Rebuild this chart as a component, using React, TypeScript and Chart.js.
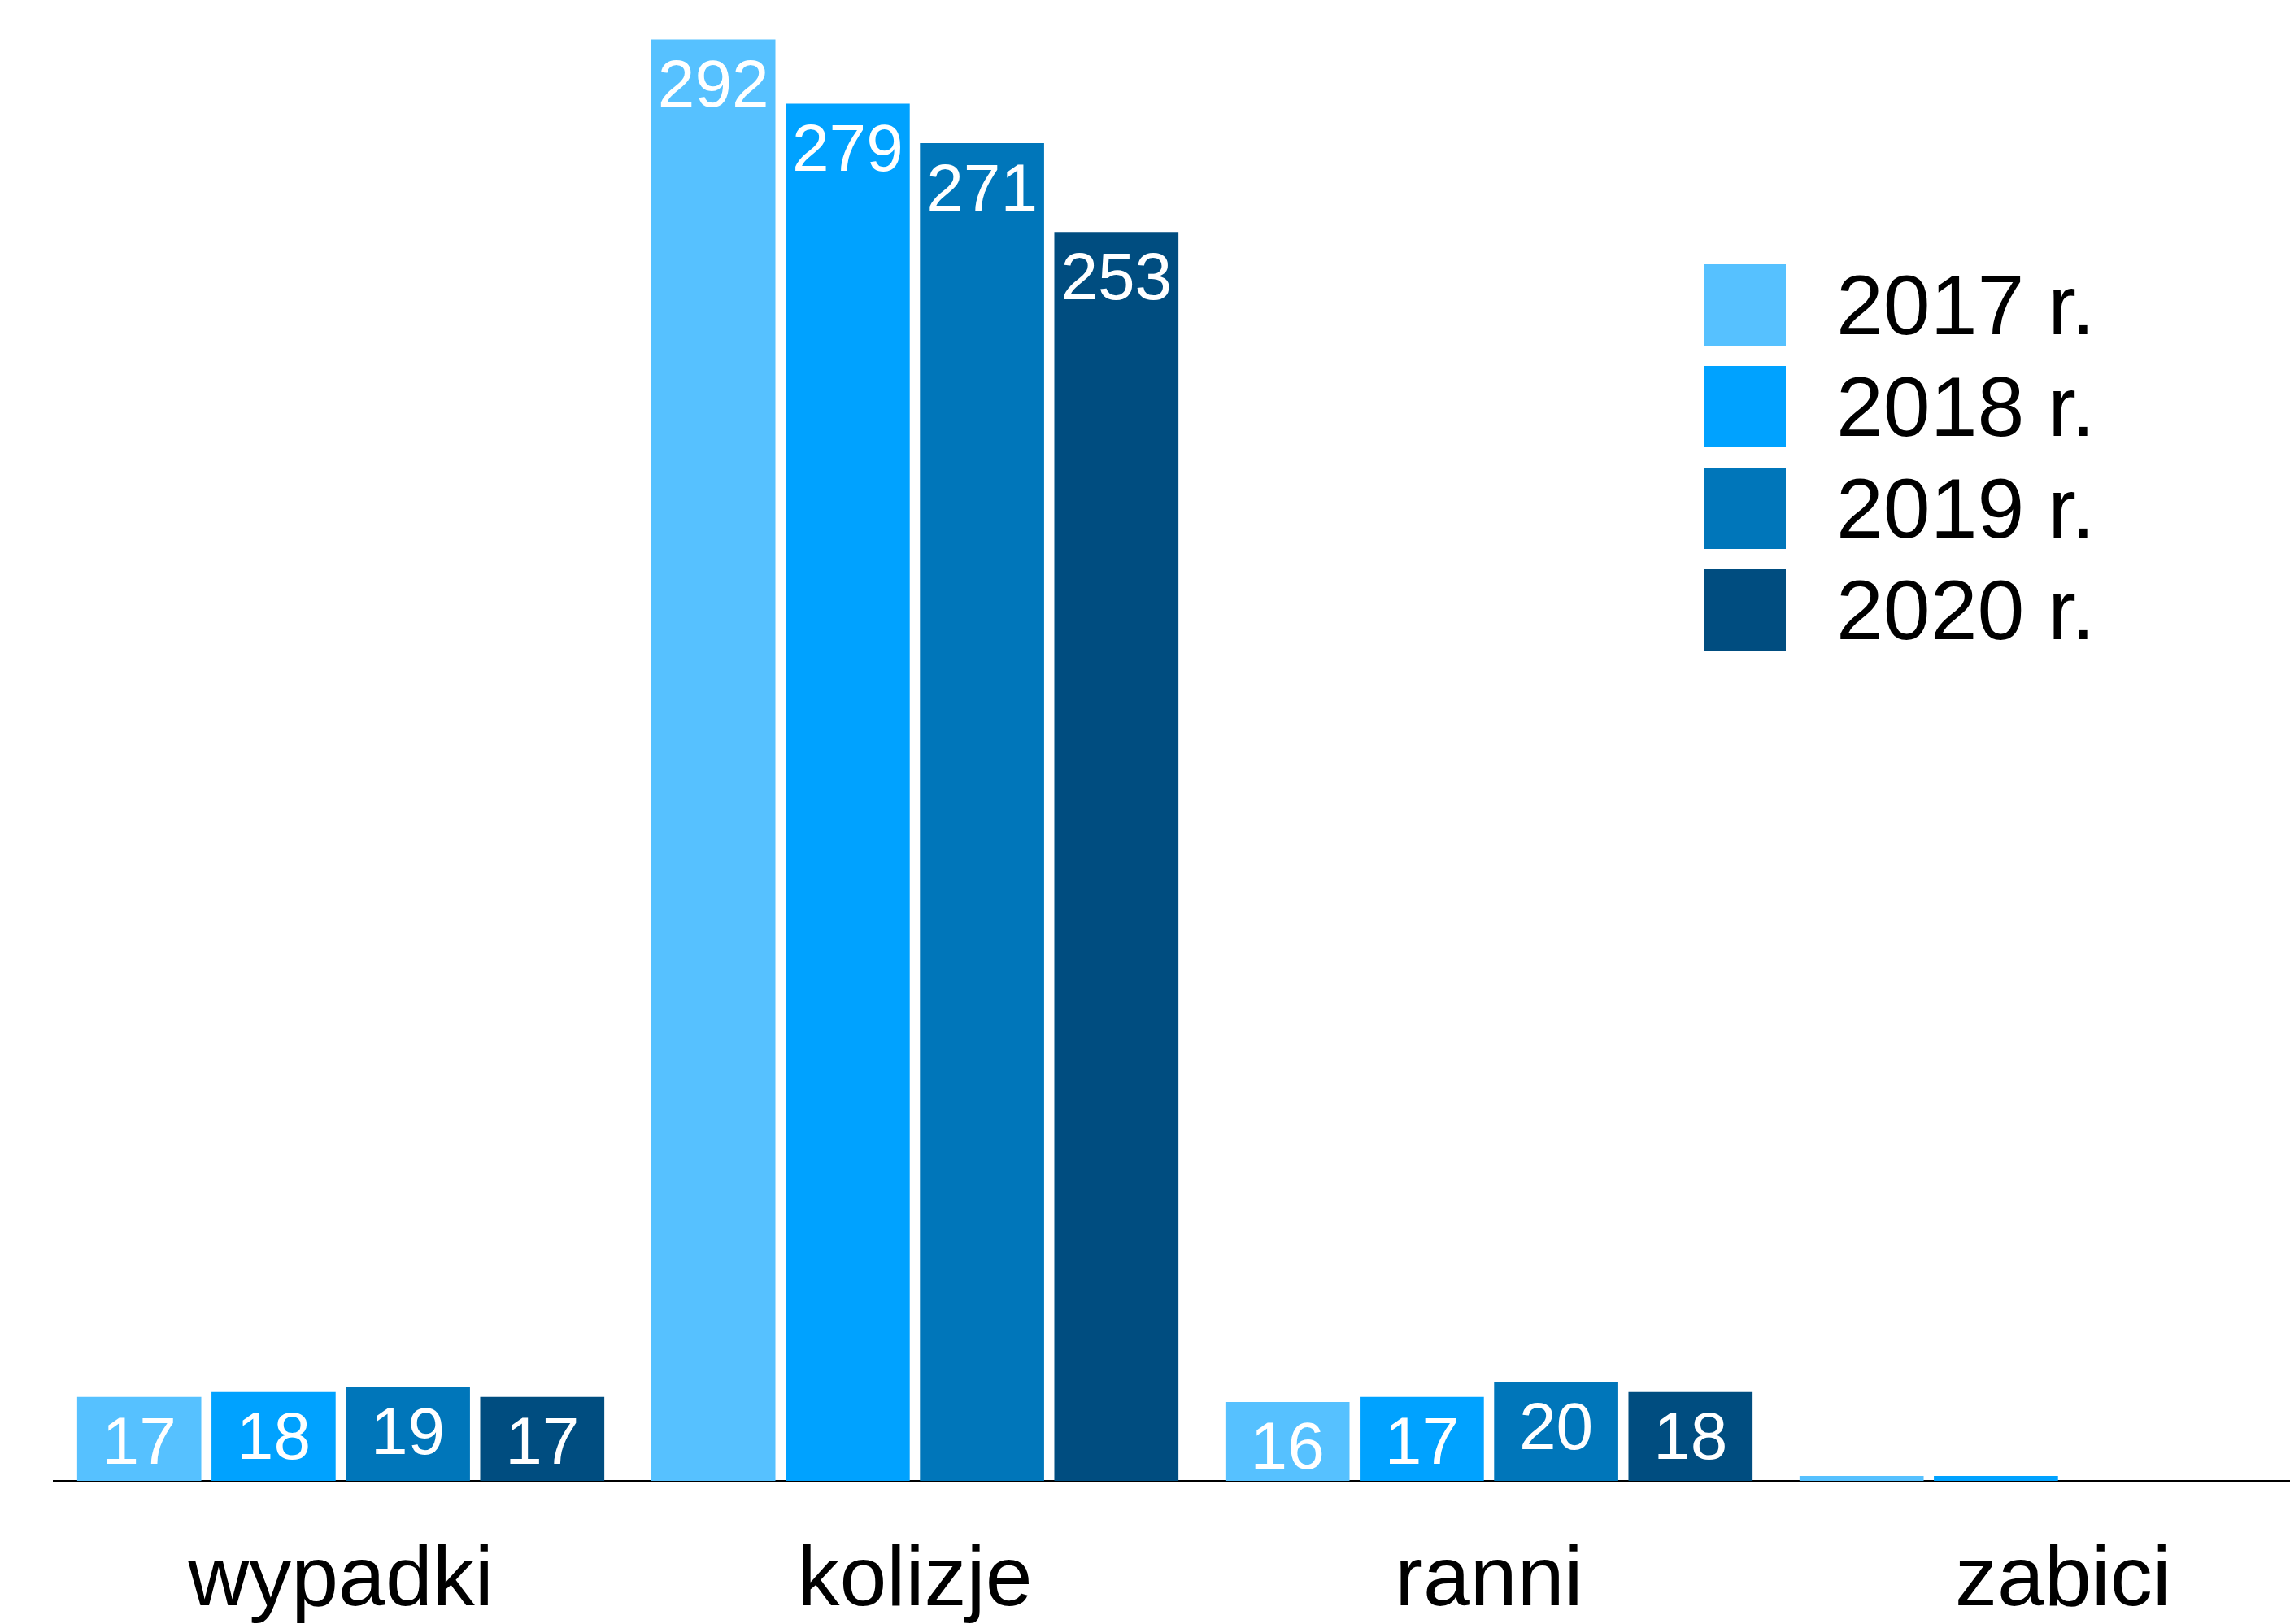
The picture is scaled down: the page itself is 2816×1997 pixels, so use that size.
import React, { useEffect, useRef } from "react";
import { Chart, registerables } from "chart.js";

Chart.register(...registerables);

const categories = ["wypadki", "kolizje", "ranni", "zabici"];
const seriesLabels = ["2017 r.", "2018 r.", "2019 r.", "2020 r."];
const values2017 = [17, 292, 16, 1];
const values2018 = [18, 279, 17, 1];
const values2019 = [19, 271, 20, 0];
const values2020 = [17, 253, 18, 0];
const seriesColors = ["#56C1FF", "#00A2FF", "#0076BA", "#004D80"];

const FONT = "'Liberation Sans', Arial, Helvetica, sans-serif";

const valueLabelPlugin = {
  id: "valueLabels",
  afterDatasetsDraw(chart: any) {
    const ctx = chart.ctx;
    ctx.save();
    ctx.fillStyle = "#ffffff";
    ctx.font = `82px ${FONT}`;
    ctx.textAlign = "center";
    ctx.textBaseline = "middle";
    chart.data.datasets.forEach((ds: any, di: number) => {
      const meta = chart.getDatasetMeta(di);
      meta.data.forEach((bar: any, i: number) => {
        const v = ds.data[i];
        if (v < 5) return;
        ctx.fillText(String(v), bar.x, bar.y + 60);
      });
    });
    ctx.restore();
  },
};

const legendPlugin = {
  id: "customLegend",
  afterDraw(chart: any) {
    const ctx = chart.ctx;
    const boxLeft = 2096;
    const firstTop = 325;
    const step = 125;
    const box = 100;
    const textLeft = 2258;
    ctx.save();
    ctx.font = `104px ${FONT}`;
    ctx.textAlign = "left";
    ctx.textBaseline = "middle";
    chart.data.datasets.forEach((ds: any, i: number) => {
      const top = firstTop + i * step;
      ctx.fillStyle = ds.backgroundColor;
      ctx.fillRect(boxLeft, top, box, box);
      ctx.fillStyle = "#000000";
      ctx.fillText(ds.label, textLeft, top + box / 2 + 7);
    });
    ctx.restore();
  },
};

export default function App() {
  const canvasRef = useRef<HTMLCanvasElement | null>(null);

  useEffect(() => {
    const canvas = canvasRef.current;
    if (!canvas) return;
    const allValues = [values2017, values2018, values2019, values2020];
    const chart = new Chart(canvas, {
      type: "bar",
      data: {
        labels: categories,
        datasets: seriesLabels.map((label, i) => ({
          label,
          data: allValues[i],
          backgroundColor: seriesColors[i],
          borderWidth: 0,
          barPercentage: 0.924,
          categoryPercentage: 0.936,
        })),
      },
      options: {
        responsive: false,
        animation: false,
        devicePixelRatio: 1,
        layout: { padding: { left: 66, right: 0, top: 0, bottom: 0 } },
        plugins: {
          legend: { display: false },
          tooltip: { enabled: false },
        },
        scales: {
          x: {
            type: "category",
            offset: true,
            grid: { display: false, drawTicks: false },
            border: { display: true, color: "#000000", width: 3 },
            ticks: {
              color: "#000000",
              font: { family: FONT, size: 104 },
              padding: 62,
              maxRotation: 0,
              autoSkip: false,
            },
            afterFit: (scale: any) => {
              scale.height = 176;
            },
          },
          y: {
            display: false,
            min: 0,
            max: 300,
          },
        },
      },
      plugins: [valueLabelPlugin, legendPlugin],
    });
    return () => chart.destroy();
  }, []);

  return (
    <div
      style={{
        position: "fixed",
        left: 0,
        top: 0,
        width: "100vw",
        height: "100vh",
        overflow: "hidden",
        background: "#ffffff",
      }}
    >
      <canvas ref={canvasRef} width={2890} height={1997} style={{ display: "block" }} />
    </div>
  );
}
